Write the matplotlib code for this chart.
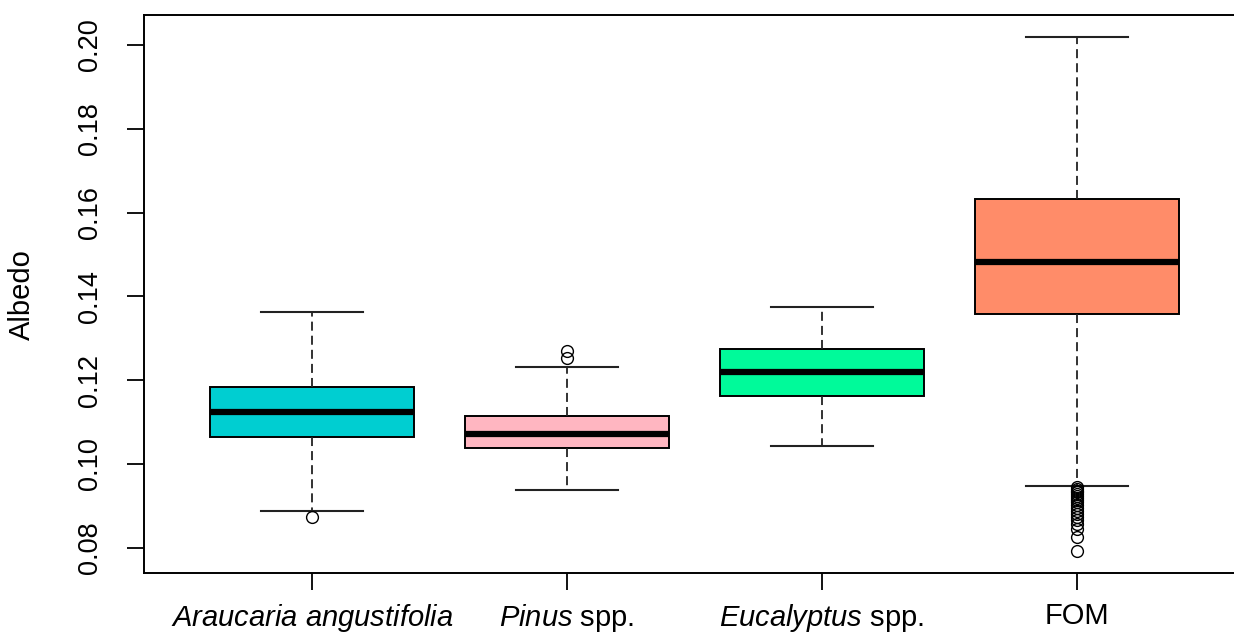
import matplotlib
matplotlib.use("Agg")
import matplotlib.pyplot as plt

plt.rcParams['font.family'] = ['Liberation Sans', 'DejaVu Sans']
plt.rcParams['mathtext.fontset'] = 'custom'
plt.rcParams['mathtext.rm'] = 'Liberation Sans'
plt.rcParams['mathtext.it'] = 'Liberation Sans:italic'

categories = [r"$\mathit{Araucaria\ angustifolia}$", r"$\mathit{Pinus}$ spp.",
              r"$\mathit{Eucalyptus}$ spp.", "FOM"]
whislo = [0.0887, 0.0938, 0.1043, 0.0947]
q1 = [0.1064, 0.1037, 0.1162, 0.1358]
med = [0.1124, 0.1071, 0.1220, 0.1483]
q3 = [0.1184, 0.1115, 0.1275, 0.1633]
whishi = [0.1362, 0.1232, 0.1375, 0.2020]
fliers = [
    [0.0873],
    [0.1253, 0.1269],
    [],
    [0.0944, 0.0940, 0.0936, 0.0932, 0.0928, 0.0924, 0.0919, 0.0914, 0.0908,
     0.0901, 0.0894, 0.0887, 0.0880, 0.0873, 0.0866, 0.0857, 0.0845, 0.0826, 0.0792],
]
colors = ["#00CED1", "#FFB6C1", "#00FA9A", "#FF8C69"]
yticks = [0.08, 0.10, 0.12, 0.14, 0.16, 0.18, 0.20]
ytick_labels = ["0.08", "0.10", "0.12", "0.14", "0.16", "0.18", "0.20"]

fig = plt.figure(figsize=(12.34, 6.36), dpi=100)
ax = fig.add_axes([0.1164, 0.0986, 0.8927, 0.8778])

stats = []
for i in range(len(categories)):
    stats.append(dict(whislo=whislo[i], q1=q1[i], med=med[i], q3=q3[i],
                      whishi=whishi[i], fliers=fliers[i]))

bp = ax.bxp(stats, positions=[1, 2, 3, 4], widths=0.8, patch_artist=True,
            boxprops=dict(linewidth=1.4, edgecolor='black'),
            medianprops=dict(color='black', linewidth=4.5, solid_capstyle='butt'),
            whiskerprops=dict(color='#222222', linewidth=1.3, linestyle=(0, (5, 2.8))),
            capprops=dict(color='#222222', linewidth=1.5),
            flierprops=dict(marker='o', markersize=8.5, markerfacecolor='none',
                            markeredgecolor='black', markeredgewidth=1.0))
for patch, c in zip(bp['boxes'], colors):
    patch.set_facecolor(c)

ax.set_xlim(0.34, 4.66)
ax.set_ylim(0.07389, 0.20716)
ax.set_xticks([1, 2, 3, 4])
ax.set_xticklabels(categories, fontsize=21)
ax.set_yticks(yticks)
ax.set_yticklabels(ytick_labels, fontsize=19.5, rotation=90, va='center')
ax.tick_params(axis='both', length=12, width=1.3, color='black')
ax.tick_params(axis='y', pad=17)
ax.tick_params(axis='x', pad=9)
for s in ax.spines.values():
    s.set_linewidth(1.4)
ax.spines['right'].set_visible(False)
ax.set_ylabel("Albedo", fontsize=21)
ax.yaxis.set_label_coords(-0.098, 0.5)

fig.savefig("out.png", dpi=100)
